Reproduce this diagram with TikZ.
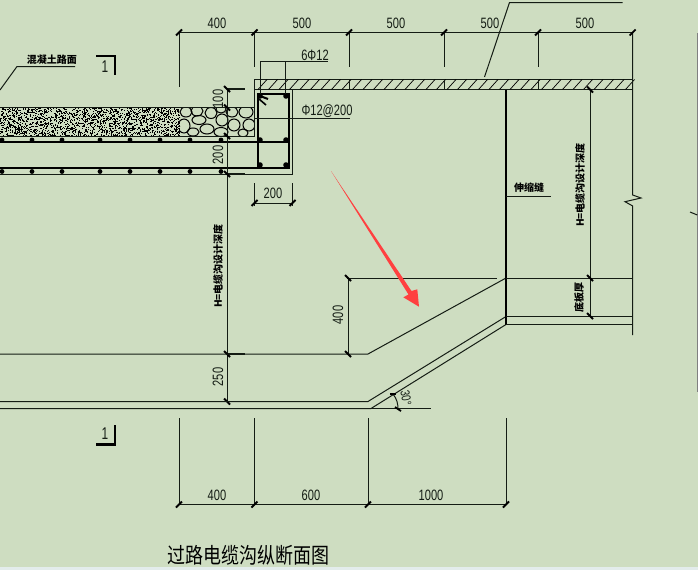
\documentclass[tikz,border=0pt]{standalone}
\usepackage{fontspec}
\setmainfont{Liberation Sans}
\newfontfamily\cjk{Noto Sans CJK SC}

\definecolor{paperbg}{HTML}{CEDDC1}
\definecolor{stripbg}{HTML}{E3ECEC}
\definecolor{arrowred}{HTML}{FF4040}
\definecolor{cadline}{HTML}{141C14}

\tikzset{
    thinline/.style={draw=cadline, line width=1pt},
    wallline/.style={draw=black, line width=2.2pt},
    secline/.style={draw=black, line width=2.8pt},
    rebarline/.style={draw=black, line width=2.6pt},
    tickline/.style={draw=black, line width=1.8pt},
    dimtext/.style={font=\fontsize{15}{15}\selectfont, xscale=0.74, inner sep=0pt, text=cadline},
    cadtext/.style={font=\cjk\bfseries\fontsize{10}{10}\selectfont, inner sep=0pt},
    sectext/.style={font=\fontsize{17}{17}\selectfont, xscale=0.7, inner sep=0pt, text=cadline},
}

\begin{document}
\begin{tikzpicture}[x=1pt, y=-1pt]
    \useasboundingbox (0,0) rectangle (698,570);
    \fill[paperbg] (0,0) rectangle (698,570);
    \fill[stripbg] (0,567) rectangle (698,570);

    % concrete road surface
    \pgfmathsetseed{42}
    \begin{scope}
        \clip (0,107.5) rectangle (180,136);
        \foreach \i in {1,...,1900} {
            \pgfmathsetmacro{\px}{rnd*181}
            \pgfmathsetmacro{\py}{107.5+rnd*28.5}
            \fill[black] (\px,\py) rectangle ++(1.1,1.1);
        }
    \end{scope}

    % stones
    \begin{scope}
        \clip (179,107.5) rectangle (254.5,136);
        \foreach \cx/\cy/\rx/\ry in {
            186/112/6/5, 184/126/6/7, 197/111/6/5, 199/120/7/4.5, 211/113/6/5.5,
            207/129/7/5, 193/132/6/4, 221/109/5/4, 222/120/6/6, 232/112/6/5,
            234/125/6/6, 246/112/7/6, 249/125/6/6, 243/133/5/4, 221/132/7/4.5
        } {
            \draw[black, line width=1pt] (\cx,\cy) ellipse [x radius=\rx, y radius=\ry];
        }
    \end{scope}

    % road and beam outline
    \draw[thinline] (0,107.5) -- (254.5,107.5);
    \draw[thinline] (0,136) -- (254.5,136);
    \draw[thinline] (254.5,89.5) -- (254.5,136);
    \draw[thinline] (0,174) -- (292.5,174) -- (292.5,89.5);
    \draw[rebarline] (0,142) -- (289,142);
    \draw[rebarline] (0,168) -- (289,168) -- (289,94) -- (258,94) -- (258,168);
    \draw[rebarline, line width=2pt] (260,96) -- (268,99);
    \draw[rebarline, line width=1.6pt] (259,99) -- (266,105);
    \foreach \px in {2,32,62,100,130,160,190,221} {
        \fill[black] (\px,140) circle (2.4);
        \fill[black] (\px,171.5) circle (2.4);
    }
    \foreach \px/\py in {260/96,286/96,260/140,286/140,260/165,286/165} {
        \fill[black] (\px,\py) circle (2.8);
    }

    % hatched slab
    \draw[thinline, fill=paperbg] (254.5,79.5) rectangle (632.7,89.5);
    \foreach \px in {258,268.5,...,632} {
        \draw[black, line width=0.7pt] (\px,89.5) -- (\px+9,79.5);
    }
    \foreach \px in {349,444,538} {
        \draw[thinline] (\px,79.5) -- (\px,89.5);
    }

    % top dimensions
    \draw[thinline] (179,32.5) -- (632.7,32.5);
    \draw[thinline] (179,32.5) -- (179,87);
    \foreach \px in {254.5,349,444,538} {
        \draw[thinline] (\px,32.5) -- (\px,67);
    }
    \draw[thinline] (632.7,32.5) -- (632.7,195) -- (641,198) -- (625,201.7) -- (632.7,206) -- (632.7,335);
    \foreach \px in {179,254.5,349,444,538,632.7} {
        \draw[tickline] (\px-3,35.5) -- (\px+3,29.5);
    }
    \node[dimtext] (topa) at (217,23) {400};
    \node[dimtext] (topb) at (302,23) {500};
    \node[dimtext] (topc) at (396,23) {500};
    \node[dimtext] (topd) at (490,23) {500};
    \node[dimtext] (tope) at (585,23) {500};

    % leader to slab
    \draw[thinline] (484.5,77) -- (509.5,2.5) -- (622.5,2.5);

    % rebar labels
    \draw[thinline] (260.5,94) -- (260.5,61.5) -- (328,61.5);
    \draw[thinline] (285.5,61.5) -- (285.5,94);
    \node[dimtext] (rebartop) at (315,55) {6Φ12};
    \draw[thinline] (254.5,118.5) -- (350,118.5);
    \node[dimtext] (rebarmid) at (327,111) {Φ12@200};
    \draw[thinline] (254.5,183) -- (254.5,206);
    \draw[thinline] (292.5,183) -- (292.5,206);
    \draw[thinline] (254.5,203) -- (292.5,203);
    \draw[tickline] (251.5,206) -- (257.5,200);
    \draw[tickline] (289.5,206) -- (295.5,200);
    \node[dimtext] (beamw) at (273,193) {200};

    % road label
    \draw[thinline] (0,90) -- (17,66.5) -- (75,66.5);
    \node[cadtext] (roadlbl) at (52,60) {混凝土路面};

    % section marks
    \draw[secline] (96,56) -- (115,56) -- (115,75);
    \node[sectext] (secup) at (105,67) {1};
    \draw[secline] (96,444.5) -- (115,444.5) -- (115,425);
    \node[sectext] (secdn) at (105,434) {1};

    % left vertical dimension
    \draw[thinline] (227,89) -- (227,401.5);
    \foreach \py in {89,174,354,401.5} {
        \draw[thinline, line width=1.3pt] (227,\py) -- (245,\py);
    }
    \foreach \py in {89,107.5,136,174,354,401.5} {
        \draw[tickline] (224,\py-3) -- (230,\py+3);
    }
    \node[rotate=90, dimtext] (dima) at (218,99) {100};
    \node[rotate=90, dimtext] (dimb) at (218,155) {200};
    \node[rotate=90, dimtext] (dimc) at (218,377) {250};
    \node[rotate=90, cadtext] (deptha) at (218,266) {H=电缆沟设计深度};

    % channel floor
    \draw[thinline] (0,354) -- (368,354) -- (506,278);
    \draw[thinline] (0,401.5) -- (368,401.5) -- (506,316.5);
    \draw[thinline] (0,408.5) -- (371,408.5) -- (506,324.5);
    \draw[thinline] (371,408.5) -- (431,408.5);
    \draw[wallline] (506,89.5) -- (506,325);
    \draw[thinline] (347,278) -- (497,278);
    \draw[thinline] (506,278) -- (632.7,278);
    \draw[thinline] (506,316) -- (632.7,316);
    \draw[thinline] (506,324) -- (632.7,324);

    % slope dimension
    \draw[thinline] (348,278) -- (348,354);
    \draw[tickline] (345,275) -- (351,281);
    \draw[tickline] (345,351) -- (351,357);
    \node[rotate=90, dimtext] (dimd) at (338,315) {400};

    % right vertical dimension
    \draw[thinline] (590,89.5) -- (590,316);
    \draw[thinline, line width=1.3pt] (563,89.5) -- (590,89.5);
    \foreach \py in {89.5,278,316} {
        \draw[tickline] (587,\py-3) -- (593,\py+3);
    }
    \node[rotate=90, cadtext] (depthb) at (580,185) {H=电缆沟设计深度};
    \node[rotate=90, cadtext] (floorlbl) at (579,297) {底板厚};

    % joint label
    \draw[thinline] (506,196.5) -- (551,196.5);
    \node[cadtext] (jointlbl) at (529,188) {伸缩缝};

    % angle
    \draw[thinline] (393,394) .. controls (397,399) and (398,404) .. (398,409);
    \draw[tickline] (390,394) -- (396,394);
    \draw[tickline] (395,407) -- (401,411);
    \node[rotate=-80, dimtext, font=\fontsize{13}{13}\selectfont] (anglelbl) at (406,398) {30°};

    % bottom dimensions
    \draw[thinline] (179,504.5) -- (506,504.5);
    \foreach \px in {179,254.5,368,506} {
        \draw[thinline] (\px,418) -- (\px,504.5);
        \draw[tickline] (\px-3,507.5) -- (\px+3,501.5);
    }
    \node[dimtext] (bota) at (217,495) {400};
    \node[dimtext] (botb) at (311,495) {600};
    \node[dimtext] (botc) at (431,495) {1000};

    % title
    \node[inner sep=0pt, yscale=1.2, font=\cjk\fontsize{18}{18}\selectfont] (titlelbl) at (248.5,555) {过路电缆沟纵断面图};

    % red arrow
    \fill[arrowred] (331,171) -- (411.5,291) -- (417.3,289.3) -- (419,306.7) -- (403.3,297.3) -- (408.5,294.5) -- cycle;

    % right edge
    \draw[thinline, draw=gray] (697.3,33) -- (697.3,392);
    \draw[thinline] (690,212) -- (697.3,215);
\end{tikzpicture}
\end{document}
